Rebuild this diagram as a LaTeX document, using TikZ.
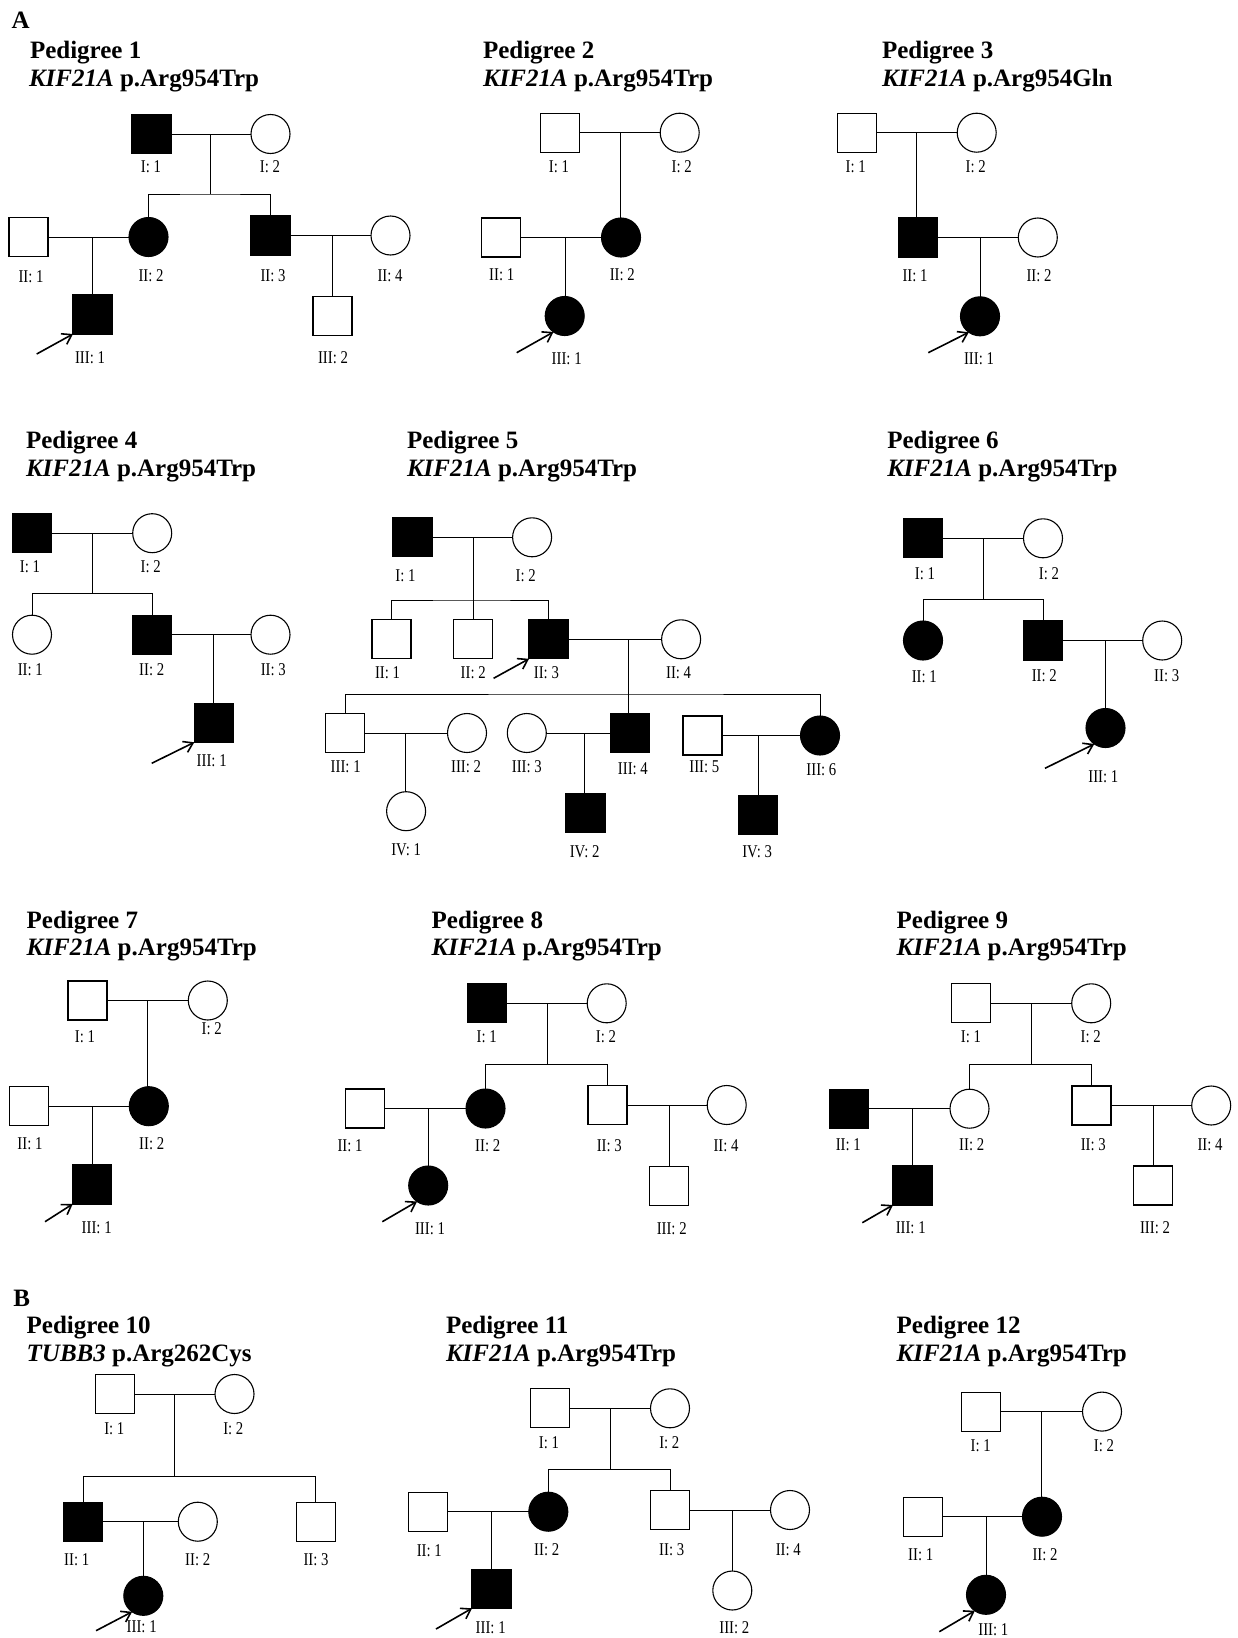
\documentclass[tikz,border=0pt]{standalone}
\usepackage{fontspec}
\setmainfont{Liberation Serif}
\newfontfamily\lblfont[FakeStretch=0.82]{Liberation Serif}
\usetikzlibrary{arrows.meta}
\newcommand{\pedind}[5]{\node[#1] (#2) at (#3) {}; \node[lbl] (#2-l) at (#4) {#5};}
\begin{document}
\begin{tikzpicture}[x=1pt,y=-1pt,
  every node/.style={inner sep=0pt, outer sep=0pt},
  male/.style={draw, rectangle, fill=white, minimum size=39pt, line width=1.1pt},
  female/.style={draw, circle, fill=white, minimum size=39pt, line width=1.1pt},
  aff/.style={fill=black},
  lbl/.style={font=\lblfont\fontsize{18}{18}\selectfont, anchor=center},
  ttl/.style={font=\fontsize{25}{28}\selectfont\bfseries, anchor=base west},
  link/.style={line width=1pt},
  proband/.style={line width=1.6pt, -{Straight Barb[length=9pt,width=12pt]}},
]
\useasboundingbox (0,0) rectangle (1237,1638);
\fill[white] (0,0) rectangle (1237,1638);

% ---------- Pedigree 1 ----------
\node[ttl] (tA) at (11.7,28) {A};
\node[ttl] (p1t1) at (30,58) {Pedigree 1};
\node[ttl] (p1t2) at (29,86) {\textit{KIF21A} p.Arg954Trp};
\coordinate (p1m1) at (210.7,134);
\coordinate (p1s1) at (210.7,194);
\coordinate (p1m2) at (92.3,237);
\coordinate (p1m3) at (332.7,235.5);
\draw[link] (p1m1) -- (p1s1);
\draw[link] (p1m2) -- (92.3,300);
\draw[link] (p1m3) -- (332.7,300);
\draw[link] (151.5,134) -- (270.5,134);
\draw[link] (28.5,237) -- (148.5,237);
\draw[link] (270.5,235.5) -- (390.5,235.5);
\pedind{male,aff}{p1a1}{151.5,134}{151,167}{I: 1}
\pedind{female}{p1a2}{270.5,134}{270,167}{I: 2}
\pedind{male}{p1b1}{28.5,237}{31,277}{II: 1}
\pedind{female,aff}{p1b2}{148.5,237}{151,276}{II: 2}
\pedind{male,aff}{p1b3}{270.5,235.5}{273,276}{II: 3}
\pedind{female}{p1b4}{390.5,235.5}{390,276}{II: 4}
\pedind{male,aff}{p1c1}{92.5,314.5}{90,358}{III: 1}
\pedind{male}{p1c2}{332.5,316}{333,358}{III: 2}
\draw[link] (p1b2.north) |- (p1s1) -| (p1b3.north);
\coordinate (p1ar) at (36.7,354);
\draw[proband] (p1ar) -- (p1c1.south west);

% ---------- Pedigree 2 ----------
\node[ttl] (p2t1) at (483,58) {Pedigree 2};
\node[ttl] (p2t2) at (483,86) {\textit{KIF21A} p.Arg954Trp};
\coordinate (p2m1) at (620,132.7);
\coordinate (p2m2) at (565,237.5);
\draw[link] (559.7,132.7) -- (679.7,132.7);
\draw[link] (501,237.5) -- (621,237.5);
\draw[link] (p2m1) -- (620,230);
\draw[link] (p2m2) -- (565,310);
\pedind{male}{p2a1}{559.7,132.7}{559,167}{I: 1}
\pedind{female}{p2a2}{679.7,132.7}{681.7,167}{I: 2}
\pedind{male}{p2b1}{501,237.5}{501.7,274.3}{II: 1}
\pedind{female,aff}{p2b2}{621,237.5}{622.3,274.3}{II: 2}
\pedind{female,aff}{p2c1}{564.7,316}{566.7,358.3}{III: 1}
\coordinate (p2ar) at (516.7,352.7);
\draw[proband] (p2ar) -- (p2c1.235);

% ---------- Pedigree 3 ----------
\node[ttl] (p3t1) at (882,58) {Pedigree 3};
\node[ttl] (p3t2) at (882,86) {\textit{KIF21A} p.Arg954Gln};
\coordinate (p3m1) at (916.7,132.7);
\coordinate (p3m2) at (980,237.5);
\draw[link] (856.7,132.7) -- (976.7,132.7);
\draw[link] (917.8,237.5) -- (1037.8,237.5);
\draw[link] (p3m1) -- (916.7,230);
\draw[link] (p3m2) -- (980,310);
\pedind{male}{p3a1}{856.7,132.7}{855.7,167}{I: 1}
\pedind{female}{p3a2}{976.7,132.7}{975.7,167}{I: 2}
\pedind{male,aff}{p3b1}{917.8,237.5}{915,275.7}{II: 1}
\pedind{female}{p3b2}{1037.8,237.5}{1039,275.7}{II: 2}
\pedind{female,aff}{p3c1}{980,316.3}{979,358.3}{III: 1}
\coordinate (p3ar) at (928.3,352.7);
\draw[proband] (p3ar) -- (p3c1.235);

% ---------- Pedigree 4 ----------
\node[ttl] (p4t1) at (26,448) {Pedigree 4};
\node[ttl] (p4t2) at (26,476) {\textit{KIF21A} p.Arg954Trp};
\coordinate (p4m1) at (92.3,533.2);
\coordinate (p4s1) at (92.3,593.3);
\coordinate (p4m2) at (213.3,634.7);
\draw[link] (31.7,533.2) -- (152.2,533.2);
\draw[link] (152.2,634.7) -- (270.5,634.7);
\draw[link] (p4m1) -- (p4s1);
\draw[link] (p4m2) -- (213.3,715);
\pedind{male,aff}{p4a1}{31.7,533.2}{30,566.7}{I: 1}
\pedind{female}{p4a2}{152.2,533.2}{150.7,566.7}{I: 2}
\pedind{female}{p4b1}{32,634.7}{30.3,670}{II: 1}
\pedind{male,aff}{p4b2}{152.2,634.7}{151.7,670}{II: 2}
\pedind{female}{p4b3}{270.5,634.7}{273.3,670}{II: 3}
\pedind{male,aff}{p4c1}{213.8,722.8}{211.7,760.7}{III: 1}
\draw[link] (p4b1.north) |- (p4s1) -| (p4b2.north);
\coordinate (p4ar) at (151.7,763.3);
\draw[proband] (p4ar) -- (p4c1.south west);

% ---------- Pedigree 5 ----------
\node[ttl] (p5t1) at (407,448) {Pedigree 5};
\node[ttl] (p5t2) at (407,476) {\textit{KIF21A} p.Arg954Trp};
\coordinate (p5m1) at (473.2,537.3);
\coordinate (p5s1) at (473.2,600);
\coordinate (p5m2) at (628.6,639.3);
\coordinate (p5s2) at (628.6,694);
\coordinate (p5m3) at (405.7,733);
\coordinate (p5m4) at (584.6,733);
\coordinate (p5m5) at (758.2,735.5);
\draw[link] (412.5,537.3) -- (532.1,537.3);
\draw[link] (548.5,639.3) -- (681.1,639.3);
\draw[link] (345.3,733) -- (467,733);
\draw[link] (526.8,733) -- (630,733);
\draw[link] (702.5,735.5) -- (820,735.5);
\draw[link] (p5m1) -- (473.2,630);
\draw[link] (p5m2) -- (628.6,720);
\draw[link] (p5m3) -- (405.7,800);
\draw[link] (p5m4) -- (584.6,800);
\draw[link] (p5m5) -- (758.2,800);
\pedind{male,aff}{p5a1}{412.5,537.3}{405.4,576}{I: 1}
\pedind{female}{p5a2}{532.1,537.3}{525.7,576}{I: 2}
\pedind{male}{p5b1}{391.5,639.3}{387.5,672.3}{II: 1}
\pedind{male}{p5b2}{473.2,639.3}{473.2,672.3}{II: 2}
\pedind{male,aff}{p5b3}{548.5,639.3}{546.4,672.3}{II: 3}
\pedind{female}{p5b4}{681.1,639.3}{678.6,672.3}{II: 4}
\pedind{male}{p5c1}{345.3,733}{345.7,766.7}{III: 1}
\pedind{female}{p5c2}{467,733}{466.1,766.7}{III: 2}
\pedind{female}{p5c3}{526.8,733}{526.8,766.7}{III: 3}
\pedind{male,aff}{p5c4}{630,733}{632.9,768.3}{III: 4}
\pedind{male}{p5c5}{702.5,735.5}{704.3,766.7}{III: 5}
\pedind{female,aff}{p5c6}{820,735.5}{821.4,769.3}{III: 6}
\pedind{female}{p5d1}{406.1,811.2}{406.1,850}{IV: 1}
\pedind{male,aff}{p5d2}{585.5,812.8}{584.6,851.7}{IV: 2}
\pedind{male,aff}{p5d3}{758.2,814.8}{757.1,851.7}{IV: 3}
\draw[link] (p5b1.north) |- (p5s1) -| (p5b3.north);
\draw[link] (p5c1.north) |- (p5s2) -| (p5c6.north);
\coordinate (p5ar) at (493.6,678.3);
\draw[proband] (p5ar) -- (p5b3.south west);

% ---------- Pedigree 6 ----------
\node[ttl] (p6t1) at (887.3,448) {Pedigree 6};
\node[ttl] (p6t2) at (887.3,476) {\textit{KIF21A} p.Arg954Trp};
\coordinate (p6m1) at (983.3,538.3);
\coordinate (p6s1) at (983.3,599.3);
\coordinate (p6m2) at (1105.7,640.5);
\draw[link] (923,538.3) -- (1043,538.3);
\draw[link] (1043,640.5) -- (1162.2,640.5);
\draw[link] (p6m1) -- (p6s1);
\draw[link] (p6m2) -- (1105.7,720);
\pedind{male,aff}{p6a1}{923,538.3}{925,573.3}{I: 1}
\pedind{female}{p6a2}{1043,538.3}{1049,573.3}{I: 2}
\pedind{female,aff}{p6b1}{923,640.5}{924.3,676.7}{II: 1}
\pedind{male,aff}{p6b2}{1043,640.5}{1044.3,676}{II: 2}
\pedind{female}{p6b3}{1162.2,640.5}{1166.7,676}{II: 3}
\pedind{female,aff}{p6c1}{1105.5,728}{1103.3,776.7}{III: 1}
\draw[link] (p6b1.north) |- (p6s1) -| (p6b2.north);
\coordinate (p6ar) at (1045,768.3);
\draw[proband] (p6ar) -- (p6c1.235);

% ---------- Pedigree 7 ----------
\node[ttl] (p7t1) at (26.7,928) {Pedigree 7};
\node[ttl] (p7t2) at (26.7,955) {\textit{KIF21A} p.Arg954Trp};
\coordinate (p7m1) at (147.7,1000.5);
\coordinate (p7m2) at (92.3,1106.2);
\draw[link] (87.5,1000.5) -- (207.8,1000.5);
\draw[link] (28.8,1106.2) -- (148.8,1106.2);
\draw[link] (p7m1) -- (147.7,1095);
\draw[link] (p7m2) -- (92.3,1175);
\pedind{male}{p7a1}{87.5,1000.5}{85,1036.7}{I: 1}
\pedind{female}{p7a2}{207.8,1000.5}{211.7,1028.3}{I: 2}
\pedind{male}{p7b1}{28.8,1106.2}{30,1144}{II: 1}
\pedind{female,aff}{p7b2}{148.8,1106.2}{151.7,1144}{II: 2}
\pedind{male,aff}{p7c1}{92.2,1184.5}{96.7,1227.3}{III: 1}
\coordinate (p7ar) at (45,1221.7);
\draw[proband] (p7ar) -- (p7c1.south west);

% ---------- Pedigree 8 ----------
\node[ttl] (p8t1) at (431.7,928) {Pedigree 8};
\node[ttl] (p8t2) at (431.7,955) {\textit{KIF21A} p.Arg954Trp};
\coordinate (p8m1) at (547.3,1003.3);
\coordinate (p8s1) at (547.3,1064.3);
\coordinate (p8m2) at (428.3,1108.5);
\coordinate (p8m3) at (669,1105);
\draw[link] (487.2,1003.3) -- (606.7,1003.3);
\draw[link] (365,1108.5) -- (485.5,1108.5);
\draw[link] (607.5,1105) -- (726.7,1105);
\draw[link] (p8m1) -- (p8s1);
\draw[link] (p8m2) -- (428.3,1175);
\draw[link] (p8m3) -- (669,1175);
\pedind{male,aff}{p8a1}{487.2,1003.3}{486.7,1036.7}{I: 1}
\pedind{female}{p8a2}{606.7,1003.3}{606,1036.7}{I: 2}
\pedind{male}{p8b1}{365,1108.5}{350,1145.7}{II: 1}
\pedind{female,aff}{p8b2}{485.5,1108.5}{487.7,1145.7}{II: 2}
\pedind{male}{p8b3}{607.5,1105}{609.3,1145.7}{II: 3}
\pedind{female}{p8b4}{726.7,1105}{726,1145.7}{II: 4}
\pedind{female,aff}{p8c1}{428.2,1185.5}{430,1228.3}{III: 1}
\pedind{male}{p8c2}{669,1185.8}{671.7,1228.3}{III: 2}
\draw[link] (p8b2.north) |- (p8s1) -| (p8b3.north);
\coordinate (p8ar) at (382.3,1221.7);
\draw[proband] (p8ar) -- (p8c1.235);

% ---------- Pedigree 9 ----------
\node[ttl] (p9t1) at (896.7,928) {Pedigree 9};
\node[ttl] (p9t2) at (896.7,955) {\textit{KIF21A} p.Arg954Trp};
\coordinate (p9m1) at (1031,1003.3);
\coordinate (p9s1) at (1031,1064.3);
\coordinate (p9m2) at (912.3,1108.7);
\coordinate (p9m3) at (1153.3,1105.5);
\draw[link] (971.2,1003.3) -- (1091.2,1003.3);
\draw[link] (849.2,1108.7) -- (969.5,1108.7);
\draw[link] (1091.5,1105.5) -- (1211.2,1105.5);
\draw[link] (p9m1) -- (p9s1);
\draw[link] (p9m2) -- (912.3,1175);
\draw[link] (p9m3) -- (1153.3,1175);
\pedind{male}{p9a1}{971.2,1003.3}{971,1036.7}{I: 1}
\pedind{female}{p9a2}{1091.2,1003.3}{1090.7,1036.7}{I: 2}
\pedind{male,aff}{p9b1}{849.2,1108.7}{848.3,1145}{II: 1}
\pedind{female}{p9b2}{969.5,1108.7}{971.7,1145}{II: 2}
\pedind{male}{p9b3}{1091.5,1105.5}{1093.3,1145}{II: 3}
\pedind{female}{p9b4}{1211.2,1105.5}{1210,1145}{II: 4}
\pedind{male,aff}{p9c1}{912.5,1185.5}{910.7,1227.7}{III: 1}
\pedind{male}{p9c2}{1153.3,1185.5}{1155,1227.7}{III: 2}
\draw[link] (p9b2.north) |- (p9s1) -| (p9b3.north);
\coordinate (p9ar) at (862.3,1222.7);
\draw[proband] (p9ar) -- (p9c1.south west);

% ---------- Pedigree 10 ----------
\node[ttl] (tB) at (13.3,1306) {B};
\node[ttl] (p10t1) at (26.7,1333) {Pedigree 10};
\node[ttl] (p10t2) at (26.7,1361) {\textit{TUBB3} p.Arg262Cys};
\coordinate (p10m1) at (174,1394);
\coordinate (p10s1) at (174,1476.7);
\coordinate (p10m2) at (143.3,1521.7);
\draw[link] (114.8,1394) -- (234.5,1394);
\draw[link] (83.3,1521.7) -- (197.8,1521.7);
\draw[link] (p10m1) -- (p10s1);
\draw[link] (p10m2) -- (143.3,1585);
\pedind{male}{p10a1}{114.8,1394}{114.3,1428.3}{I: 1}
\pedind{female}{p10a2}{234.5,1394}{233.3,1428.3}{I: 2}
\pedind{male,aff}{p10b1}{83.3,1521.7}{76.7,1559.3}{II: 1}
\pedind{female}{p10b2}{197.8,1521.7}{197.7,1559.3}{II: 2}
\pedind{male}{p10b3}{315.8,1521.7}{316,1559.3}{II: 3}
\pedind{female,aff}{p10c1}{143.3,1595.8}{141.7,1626.7}{III: 1}
\draw[link] (p10b1.north) |- (p10s1) -| (p10b3.north);
\coordinate (p10ar) at (96,1630.7);
\draw[proband] (p10ar) -- (p10c1.235);

% ---------- Pedigree 11 ----------
\node[ttl] (p11t1) at (446,1333) {Pedigree 11};
\node[ttl] (p11t2) at (446,1361.7) {\textit{KIF21A} p.Arg954Trp};
\coordinate (p11m1) at (610,1408.3);
\coordinate (p11s1) at (610,1469.3);
\coordinate (p11m2) at (491.7,1511.7);
\coordinate (p11m3) at (732.3,1510);
\draw[link] (550,1408.3) -- (670,1408.3);
\draw[link] (428,1511.7) -- (548.3,1511.7);
\draw[link] (670,1510) -- (790,1510);
\draw[link] (p11m1) -- (p11s1);
\draw[link] (p11m2) -- (491.7,1580);
\draw[link] (p11m3) -- (732.3,1580);
\pedind{male}{p11a1}{550,1408.3}{549,1442.3}{I: 1}
\pedind{female}{p11a2}{670,1408.3}{669.3,1442.3}{I: 2}
\pedind{male}{p11b1}{428,1511.7}{429.3,1551}{II: 1}
\pedind{female,aff}{p11b2}{548.3,1511.7}{546.7,1550}{II: 2}
\pedind{male}{p11b3}{670,1510}{671.7,1550}{II: 3}
\pedind{female}{p11b4}{790,1510}{788.3,1550}{II: 4}
\pedind{male,aff}{p11c1}{491.5,1588.8}{490.7,1627.7}{III: 1}
\pedind{female}{p11c2}{732.3,1590.5}{734.3,1627.7}{III: 2}
\draw[link] (p11b2.north) |- (p11s1) -| (p11b3.north);
\coordinate (p11ar) at (436,1629);
\draw[proband] (p11ar) -- (p11c1.south west);

% ---------- Pedigree 12 ----------
\node[ttl] (p12t1) at (896.7,1333) {Pedigree 12};
\node[ttl] (p12t2) at (896.7,1361) {\textit{KIF21A} p.Arg954Trp};
\coordinate (p12m1) at (1041.7,1411.6);
\coordinate (p12m2) at (986,1516.7);
\draw[link] (981.2,1411.6) -- (1102,1411.6);
\draw[link] (922.8,1516.7) -- (1043,1516.7);
\draw[link] (p12m1) -- (1041.7,1505);
\draw[link] (p12m2) -- (986,1585);
\pedind{male}{p12a1}{981.2,1411.6}{980.7,1446}{I: 1}
\pedind{female}{p12a2}{1102,1411.6}{1104,1446}{I: 2}
\pedind{male}{p12b1}{922.8,1516.7}{920.7,1554.3}{II: 1}
\pedind{female,aff}{p12b2}{1042,1516.7}{1045,1554.3}{II: 2}
\pedind{female,aff}{p12c1}{986,1594.8}{993.3,1630}{III: 1}
\coordinate (p12ar) at (939.3,1631.7);
\draw[proband] (p12ar) -- (p12c1.235);
\end{tikzpicture}
\end{document}
